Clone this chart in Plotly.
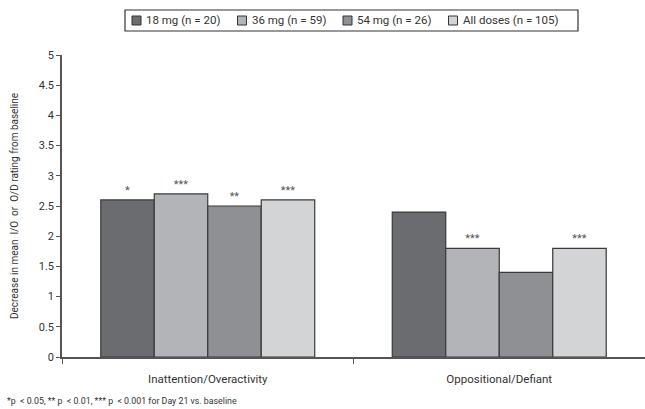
import plotly.graph_objects as go

categories = ["Inattention/Overactivity", "Oppositional/Defiant"]
series_names = ["18 mg (n = 20)", "36 mg (n = 59)", "54 mg (n = 26)", "All doses (n = 105)"]
values_18 = [2.6, 2.4]
values_36 = [2.7, 1.8]
values_54 = [2.5, 1.4]
values_all = [2.6, 1.8]
significance_18 = ["*", ""]
significance_36 = ["***", "***"]
significance_54 = ["**", ""]
significance_all = ["***", "***"]
colors = ["#6b6c70", "#b3b4b7", "#8f9094", "#d3d4d6"]
y_ticks = [0, 0.5, 1, 1.5, 2, 2.5, 3, 3.5, 4, 4.5, 5]

FONT = "Roboto, Arial, sans-serif"

# plot area in pixels (used to place the hand-built legend box)
ML, MT, MB, W, H = 62, 55, 52, 645, 409
PW, PH = W - ML, H - MT - MB


def px_x(x):
    return (x - ML) / PW


def px_y(y):
    return (H - MB - y) / PH


fig = go.Figure()
for name, vals, sig, col in zip(
    series_names,
    [values_18, values_36, values_54, values_all],
    [significance_18, significance_36, significance_54, significance_all],
    colors,
):
    fig.add_trace(go.Bar(
        x=categories, y=vals, name=name, showlegend=False,
        marker=dict(color=col, line=dict(color="#3a3a3c", width=1.2)),
        text=sig, textposition="outside", cliponaxis=False,
        textfont=dict(size=11, color="#555555", family=FONT),
    ))

# legend: framed box with small square swatches
fig.add_shape(type="rect", xref="paper", yref="paper",
              x0=px_x(125), x1=px_x(578), y0=px_y(31), y1=px_y(10),
              line=dict(color="#333333", width=1.2), fillcolor="white")
item_pitch = 105.5
for i, (name, col) in enumerate(zip(series_names, colors)):
    sx = 132 + i * item_pitch
    fig.add_shape(type="rect", xref="paper", yref="paper",
                  x0=px_x(sx), x1=px_x(sx + 9), y0=px_y(25), y1=px_y(16),
                  line=dict(color="#333333", width=1), fillcolor=col)
    fig.add_annotation(text=name, xref="paper", yref="paper",
                       x=px_x(sx + 12), y=px_y(20.5), xanchor="left", yanchor="middle",
                       showarrow=False, font=dict(size=11.5, family=FONT, color="#333333"))

fig.update_layout(
    width=W, height=H,
    margin=dict(l=ML, r=0, t=MT, b=MB, autoexpand=False),
    paper_bgcolor="white", plot_bgcolor="white",
    barmode="group", bargap=0.266, bargroupgap=0,
    font=dict(family=FONT, size=11, color="#333333"),
    yaxis=dict(
        range=[0, 5], tickvals=y_ticks, ticktext=[f"{t:g}" for t in y_ticks],
        showgrid=False, zeroline=False, showline=True, linecolor="#555555", linewidth=1.5,
        ticks="outside", ticklen=4, tickcolor="#555555",
        tickfont=dict(size=11, family=FONT, color="#333333"),
        title=dict(text="Decrease in mean  I/O  or  O/D rating from baseline",
                   font=dict(size=10, family=FONT, color="#333333"), standoff=18),
    ),
    xaxis=dict(
        showgrid=False, showline=True, linecolor="#555555", linewidth=1.5,
        ticks="outside", tickson="boundaries", ticklen=5, tickcolor="#555555",
        ticklabelstandoff=10,
        tickfont=dict(size=11.5, family=FONT, color="#333333"),
    ),
)

fig.add_annotation(
    text="*p  < 0.05, ** p  < 0.01, *** p  < 0.001 for Day 21 vs. baseline",
    xref="paper", yref="paper", x=px_x(5), y=px_y(401), xanchor="left", yanchor="middle",
    showarrow=False, font=dict(size=8.8, family=FONT, color="#333333"),
)

fig.write_html("out.html")
